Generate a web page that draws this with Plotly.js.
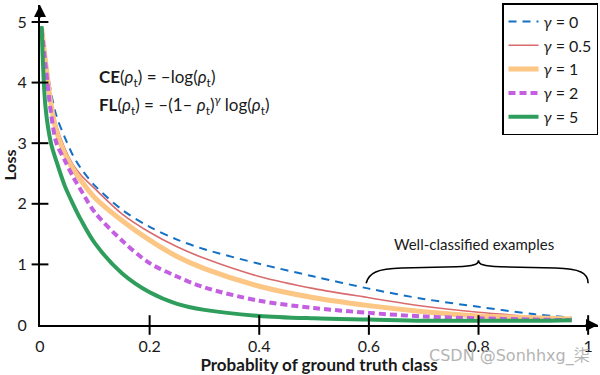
<!DOCTYPE html>
<html>
<head>
<meta charset="utf-8">
<script src="https://cdn.plot.ly/plotly-3.0.1.min.js"></script>
<style>html,body{margin:0;padding:0;background:#fff;}#chart{width:600px;height:375px;}</style>
</head>
<body>
<div id="chart"></div>
<script>
// probability of ground-truth class (x)
const p = [0.003, 0.01, 0.02, 0.03, 0.045, 0.06, 0.075, 0.1, 0.15, 0.2, 0.25, 0.3, 0.4, 0.5, 0.6, 0.7, 0.8, 0.9, 0.97];
// loss values, one array per gamma
const loss_g0  = [4.93, 4.45, 3.85, 3.45, 3.10, 2.80, 2.58, 2.30, 1.90, 1.62, 1.41, 1.25, 1.01, 0.80, 0.60, 0.43, 0.30, 0.18, 0.12];
const loss_g05 = [4.92, 4.40, 3.75, 3.30, 2.92, 2.65, 2.47, 2.25, 1.83, 1.53, 1.29, 1.10, 0.80, 0.60, 0.45, 0.31, 0.21, 0.14, 0.10];
const loss_g1  = [4.90, 4.35, 3.65, 3.20, 2.83, 2.58, 2.38, 2.10, 1.72, 1.40, 1.13, 0.93, 0.64, 0.45, 0.32, 0.22, 0.15, 0.12, 0.10];
const loss_g2  = [4.88, 4.30, 3.50, 3.00, 2.72, 2.45, 2.22, 1.86, 1.39, 1.02, 0.80, 0.62, 0.40, 0.28, 0.20, 0.14, 0.11, 0.09, 0.08];
const loss_g5  = [4.93, 3.60, 3.00, 2.70, 2.30, 2.00, 1.73, 1.35, 0.85, 0.54, 0.35, 0.25, 0.15, 0.11, 0.09, 0.07, 0.07, 0.07, 0.08];
const seriesNames = ['<i>γ</i> = 0', '<i>γ</i> = 0.5', '<i>γ</i> = 1', '<i>γ</i> = 2', '<i>γ</i> = 5'];
const xTickVals = [0, 0.2, 0.4, 0.6, 0.8, 1];
const xTickText = ['0', '0.2', '0.4', '0.6', '0.8', '1'];
const yTickVals = [0, 1, 2, 3, 4, 5];
const yTickText = ['0', '1', '2', '3', '4', '5'];

const FONT = 'Lato, "Open Sans", sans-serif';

const mk = (y, name, color, width, dash) => ({
  x: p, y: y, name: name, type: 'scatter', mode: 'lines',
  line: {color: color, width: width, dash: dash, shape: 'spline', smoothing: 0.9},
  hoverinfo: 'skip'
});

const traces = [
  mk(loss_g0,  seriesNames[0], '#1470c4', 2,   '8px,6px'),
  mk(loss_g05, seriesNames[1], '#d96b6d', 1.6, 'solid'),
  mk(loss_g1,  seriesNames[2], '#fcc685', 5,   'solid'),
  mk(loss_g2,  seriesNames[3], '#c35fe0', 4,   '7px,4px'),
  mk(loss_g5,  seriesNames[4], '#2f9e5c', 4,   'solid')
];

// tick marks crossing the axis lines, drawn as line-shaped markers at the tick values (zero ticks omitted)
const xt = xTickVals.slice(1), yt = yTickVals.slice(1);
traces.push({
  x: xt, y: xt.map(() => 0), type: 'scatter', mode: 'markers', cliponaxis: false, showlegend: false, hoverinfo: 'skip',
  marker: {symbol: 'line-ns-open', size: 14, color: '#000', line: {color: '#000', width: 2}}
});
traces.push({
  x: yt.map(() => 0), y: yt, type: 'scatter', mode: 'markers', cliponaxis: false, showlegend: false, hoverinfo: 'skip',
  marker: {symbol: 'line-ew-open', size: 12, color: '#000', line: {color: '#000', width: 2}}
});

const W = 600, H = 375, M = {l: 40, r: 2, t: 5, b: 50};
const XR = [0, 1.018], YR = [0, 5.28];

const layout = {
  width: W, height: H,
  margin: M,
  paper_bgcolor: '#fff', plot_bgcolor: '#fff',
  font: {family: FONT, color: '#1a1a1a', size: 15},
  showlegend: true,
  legend: {x: 1, xanchor: 'right', y: 1.006, yanchor: 'top', bordercolor: '#000', borderwidth: 1.5,
           bgcolor: '#fff', font: {size: 16, family: FONT}, itemwidth: 30, tracegroupgap: 0},
  xaxis: {range: XR, tickmode: 'array', tickvals: xTickVals, ticktext: xTickText, ticks: '',
          showline: true, linecolor: '#000', linewidth: 2, showgrid: false, zeroline: false,
          tickfont: {size: 16}, ticklabelstandoff: 6,
          title: {text: '<b>Probablity of ground truth class</b>', font: {size: 17}, standoff: 3}},
  yaxis: {range: YR, tickmode: 'array', tickvals: yTickVals, ticktext: yTickText, ticks: '',
          showline: true, linecolor: '#000', linewidth: 2, showgrid: false, zeroline: false,
          tickfont: {size: 16}, ticklabelstandoff: 8,
          title: {text: '<b>Loss</b>', font: {size: 16}, standoff: 6}},
  shapes: [{
    type: 'path', xref: 'x', yref: 'y', line: {color: '#000', width: 1.6},
    path: 'M 0.595,0.69 C 0.600,0.86 0.615,0.93 0.660,0.94 L 0.760,0.96 C 0.792,0.97 0.800,1.00 0.800,1.07 ' +
          'C 0.800,1.00 0.808,0.97 0.840,0.96 L 0.940,0.94 C 0.985,0.93 1.000,0.86 1.000,0.69'
  }],
  annotations: [
    {xref: 'paper', yref: 'paper', x: 0.102, y: 0.772, xanchor: 'left', yanchor: 'middle', showarrow: false,
     text: '<b>CE</b>(<i>ρ</i><sub>t</sub>) = –log(<i>ρ</i><sub>t</sub>)', font: {size: 17}},
    {xref: 'paper', yref: 'paper', x: 0.102, y: 0.6875, xanchor: 'left', yanchor: 'middle', showarrow: false,
     text: '<b>FL</b>(<i>ρ</i><sub>t</sub>) = –(1– <i>ρ</i><sub>t</sub>)<sup><i>γ</i></sup> log(<i>ρ</i><sub>t</sub>)', font: {size: 17}},
    {xref: 'paper', yref: 'paper', x: 0.778, y: 0.253, xanchor: 'center', yanchor: 'middle', showarrow: false,
     text: 'Well-classified examples', font: {size: 15}},
    {xref: 'paper', yref: 'paper', x: 0.842, y: -0.097, xanchor: 'center', yanchor: 'middle', showarrow: false,
     text: 'CSDN @Sonhhxg_柒', font: {size: 16, color: '#b4b4b4', family: '"DejaVu Sans", "Noto Sans CJK SC", sans-serif'}},
    {xref: 'paper', yref: 'paper', x: 0, y: 1, ax: 0, ay: 14, showarrow: true, text: '',
     arrowhead: 2, arrowsize: 1.2, arrowwidth: 2, arrowcolor: '#000'},
    {xref: 'paper', yref: 'paper', x: 1, y: 0, ax: -14, ay: 0, showarrow: true, text: '',
     arrowhead: 2, arrowsize: 1.2, arrowwidth: 2, arrowcolor: '#000'}
  ]
};

Plotly.newPlot('chart', traces, layout, {displayModeBar: false, staticPlot: true});
</script>
</body>
</html>
